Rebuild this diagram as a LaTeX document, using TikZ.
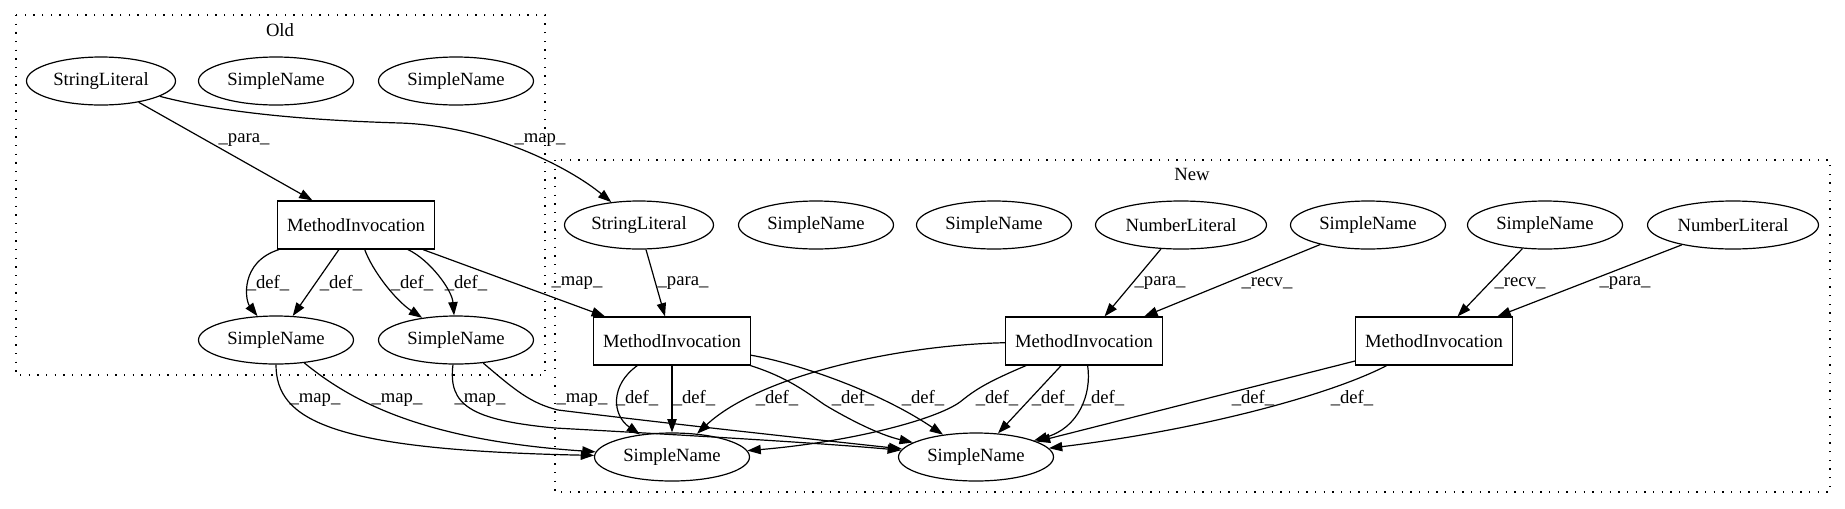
\documentclass[tikz,border=0pt]{standalone}
\usepackage{fontspec}
\setmainfont{Liberation Serif}
\usetikzlibrary{arrows.meta,shapes.geometric}
\begin{document}
\begin{tikzpicture}[x=0.75pt,y=-0.75pt,
  font=\fontsize{14}{16}\selectfont,
  base/.style={draw, line width=0.9pt, inner sep=0pt, minimum height=36pt},
  sn/.style={base, ellipse, minimum width=116.25pt},
  sl/.style={base, ellipse, minimum width=111.75pt},
  nl/.style={base, ellipse, minimum width=128.25pt},
  mi/.style={base, rectangle, minimum width=117.75pt},
  conn/.style={line width=0.9pt, -{Triangle[length=10pt,width=7pt]}},
  lbl/.style={inner sep=0pt},
  cluster/.style={line width=0.9pt, dash pattern=on 1pt off 5.5pt}]
\useasboundingbox (0,0) rectangle (1845,508);
% clusters
\draw[cluster] (16,15) rectangle (545,375);
\node[lbl] (oldlbl) at (280,30) {Old};
\draw[cluster] (555,160) rectangle (1830,492);
\node[lbl] (newlbl) at (1192,174) {New};
% old nodes
\node[sl] (oSL) at (101,81) {StringLiteral};
\node[sn] (oSN1) at (276,81) {SimpleName};
\node[sn] (oSN2) at (456,81) {SimpleName};
\node[mi] (oMI) at (356,225) {MethodInvocation};
\node[sn] (oSNb1) at (276,340) {SimpleName};
\node[sn] (oSNb2) at (456,340) {SimpleName};
% new nodes
\node[sl] (nSL) at (639,225) {StringLiteral};
\node[sn] (nSN1) at (816,225) {SimpleName};
\node[sn] (nSN2) at (994,225) {SimpleName};
\node[nl] (nNL1) at (1181,225) {NumberLiteral};
\node[sn] (nSN3) at (1368,225) {SimpleName};
\node[sn] (nSN4) at (1545,225) {SimpleName};
\node[nl] (nNL2) at (1733,225) {NumberLiteral};
\node[mi] (nMI1) at (672,341) {MethodInvocation};
\node[mi] (nMI2) at (1084,341) {MethodInvocation};
\node[mi] (nMI3) at (1434,341) {MethodInvocation};
\node[sn] (nSNA) at (672,457) {SimpleName};
\node[sn] (nSNB) at (976,457) {SimpleName};
% old edges
\draw[conn] (oSL) -- (oMI) node[lbl,at={(244,140)}]{\_para\_};
\draw[conn] (oSL) .. controls (220,112) and (300,120) .. (400,123)
  .. controls (490,126) and (570,168) .. (nSL) node[lbl,at={(540,140)}]{\_map\_};
\draw[conn] (oMI) .. controls (240,262) and (245,300) .. (oSNb1) node[lbl,at={(268,283)}]{\_def\_};
\draw[conn] (oMI) -- (oSNb1) node[lbl,at={(341,283)}]{\_def\_};
\draw[conn] (oMI) .. controls (372,270) and (395,300) .. (oSNb2) node[lbl,at={(412,283)}]{\_def\_};
\draw[conn] (oMI) .. controls (430,260) and (452,290) .. (oSNb2) node[lbl,at={(466,283)}]{\_def\_};
\draw[conn] (oMI) -- (nMI1) node[lbl,at={(577,283)}]{\_map\_};
% map edges bottom
\draw[conn] (oSNb1) .. controls (276,420) and (330,450) .. (nSNA) node[lbl,at={(315,400)}]{\_map\_};
\draw[conn] (oSNb1) .. controls (350,400) and (420,440) .. (nSNA) node[lbl,at={(397,400)}]{\_map\_};
\draw[conn] (oSNb2) .. controls (448,405) and (470,420) .. (555,428)
  .. controls (700,436) and (820,443) .. (nSNB) node[lbl,at={(480,400)}]{\_map\_};
\draw[conn] (oSNb2) .. controls (515,390) and (530,403) .. (558,410)
  .. controls (680,425) and (820,440) .. (nSNB) node[lbl,at={(582,400)}]{\_map\_};
% new edges top
\draw[conn] (nSL) -- (nMI1) node[lbl,at={(683,283)}]{\_para\_};
\draw[conn] (nNL1) -- (nMI2) node[lbl,at={(1160,283)}]{\_para\_};
\draw[conn] (nSN3) -- (nMI2) node[lbl,at={(1267,283)}]{\_recv\_};
\draw[conn] (nSN4) -- (nMI3) node[lbl,at={(1520,283)}]{\_recv\_};
\draw[conn] (nNL2) -- (nMI3) node[lbl,at={(1625,283)}]{\_para\_};
% new def edges
\draw[conn] (nMI1) .. controls (610,385) and (612,415) .. (nSNA) node[lbl,at={(637,398)}]{\_def\_};
\draw[conn] (nMI1) -- (nSNA) node[lbl,at={(694,398)}]{\_def\_};
\draw[conn] (nMI1) .. controls (790,378) and (810,395) .. (825,405)
  .. controls (850,420) and (880,435) .. (nSNB) node[lbl,at={(853,398)}]{\_def\_};
\draw[conn] (nMI1) .. controls (800,364) and (880,392) .. (nSNB) node[lbl,at={(923,398)}]{\_def\_};
\draw[conn] (nMI2) .. controls (900,345) and (760,375) .. (nSNA) node[lbl,at={(777,398)}]{\_def\_};
\draw[conn] (nMI2) .. controls (985,383) and (975,390) .. (960,402)
  .. controls (935,420) and (850,442) .. (nSNA) node[lbl,at={(997,398)}]{\_def\_};
\draw[conn] (nMI2) -- (nSNB) node[lbl,at={(1053,398)}]{\_def\_};
\draw[conn] (nMI2) .. controls (1092,395) and (1078,428) .. (nSNB) node[lbl,at={(1103,398)}]{\_def\_};
\draw[conn] (nMI3) -- (nSNB) node[lbl,at={(1253,398)}]{\_def\_};
\draw[conn] (nMI3) .. controls (1330,395) and (1200,430) .. (nSNB) node[lbl,at={(1352,398)}]{\_def\_};
\end{tikzpicture}
\end{document}
